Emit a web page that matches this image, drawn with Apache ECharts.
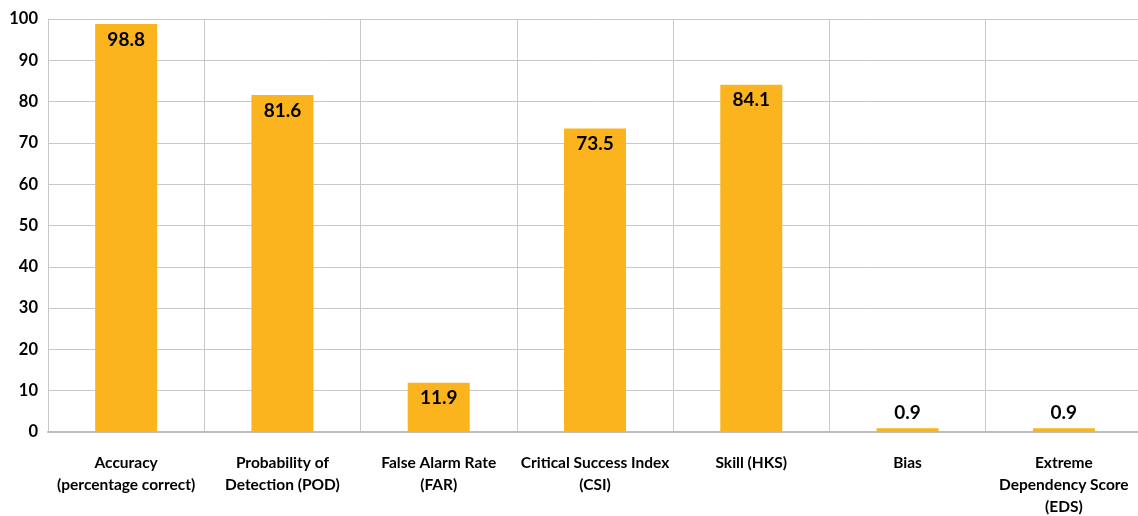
<!DOCTYPE html>
<html>
<head>
<meta charset="utf-8">
<script src="https://cdn.jsdelivr.net/npm/echarts@6/dist/echarts.min.js"></script>
<style>
  html, body { margin: 0; padding: 0; background: #fff; }
  #chart { width: 1138px; height: 516px; }
</style>
</head>
<body>
<div id="chart"></div>
<script>
const categories = [
  'Accuracy\n(percentage correct)',
  'Probability of\nDetection (POD)',
  'False Alarm Rate\n(FAR)',
  'Critical Success Index\n(CSI)',
  'Skill (HKS)',
  'Bias',
  'Extreme\nDependency Score\n(EDS)'
];
const scores = [98.8, 81.6, 11.9, 73.5, 84.1, 0.9, 0.9];

const font = 'Lato, "Open Sans", sans-serif';
const barData = scores.map(v => ({
  value: v,
  label: { position: v < 5 ? 'top' : 'insideTop' }
}));

const chart = echarts.init(document.getElementById('chart'));
chart.setOption({
  animation: false,
  grid: {
    left: 48, top: 19, width: 1094, height: 413,
    containLabel: false, outerBoundsMode: 'none'
  },
  xAxis: {
    type: 'category',
    data: categories,
    axisLine: { lineStyle: { color: '#bdbdbd', width: 2 } },
    axisTick: { show: false },
    splitLine: { show: true, lineStyle: { color: '#c8c8c8', width: 1 } },
    axisLabel: {
      interval: 0, margin: 20, color: '#000', fontFamily: font,
      fontWeight: 'bold', fontSize: 15.5, lineHeight: 22
    }
  },
  yAxis: {
    type: 'value', min: 0, max: 100, interval: 10,
    axisLine: { show: true, lineStyle: { color: '#c8c8c8' } },
    axisTick: { show: false },
    splitLine: { lineStyle: { color: '#c8c8c8' } },
    axisLabel: {
      margin: 10, color: '#000', fontFamily: font,
      fontWeight: 'bold', fontSize: 16.5
    }
  },
  series: [{
    type: 'bar',
    data: barData,
    barWidth: 62,
    itemStyle: { color: '#FBB41E' },
    label: {
      show: true, distance: 6, color: '#000', fontFamily: font,
      fontWeight: 'bold', fontSize: 19,
      formatter: p => p.value.toFixed(1)
    }
  }]
});
</script>
</body>
</html>
